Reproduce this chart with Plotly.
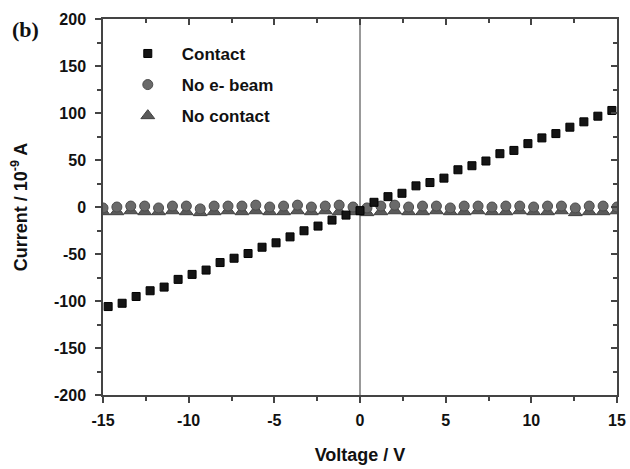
import numpy as np
import plotly.graph_objects as go

# ---- data ----
contact_v = np.linspace(-14.7, 14.7, 37).tolist()
contact_i = [-105.9, -102.4, -95.2, -89.1, -85.2, -77.0, -71.7, -67.1, -59.1,
             -54.5, -49.5, -42.8, -38.1, -31.8, -25.3, -20.3, -13.9, -8.6, -3.9,
             5.0, 11.0, 14.6, 22.5, 26.0, 30.7, 39.6, 43.9, 48.9, 56.7, 60.2,
             67.4, 73.5, 78.1, 84.9, 90.6, 96.6, 102.7]

gray_v = np.linspace(-15, 15, 38).tolist()
nobeam_i = [-1, 0, 1, 1, -1, 1, 1, -2, 1, 1, 1, 2, 0, 1, 2, 0, 1, 2, 0,
            -1, 1, 2, 0, 1, 1, -1, 1, 1, 0, 1, 1, 0, 1, 1, -1, 1, 1, 0]
nocontact_i = [-5, -5, -4, -5, -5, -4, -5, -6, -5, -4, -5, -4, -5, -5, -4, -5, -4, -5, -5,
               -6, -5, -4, -5, -5, -4, -5, -5, -4, -5, -5, -4, -5, -5, -4, -6, -5, -5, -4]

x_ticks = [-15, -10, -5, 0, 5, 10, 15]
x_ticklabels = ["-15", "-10", "-5", "0", "5", "10", "15"]
y_ticks = [-200, -150, -100, -50, 0, 50, 100, 150, 200]
y_ticklabels = ["-200", "-150", "-100", "-50", "0", "50", "100", "150", "200"]

FONT = "Liberation Sans, Arial, sans-serif"

fig = go.Figure()

fig.add_trace(go.Scatter(
    x=gray_v, y=nocontact_i, mode="markers", name="No contact",
    legendgroup="c", legendrank=3,
    marker=dict(symbol="triangle-up", size=12, color="#5a5a5a",
                line=dict(color="#404040", width=1))))
fig.add_trace(go.Scatter(
    x=gray_v, y=nobeam_i, mode="markers", name="No e- beam",
    legendgroup="b", legendrank=2,
    marker=dict(symbol="circle", size=10, color="#6a6a6a",
                line=dict(color="#4c4c4c", width=1))))
fig.add_trace(go.Scatter(
    x=contact_v, y=contact_i, mode="markers", name="Contact",
    legendgroup="a", legendrank=1,
    marker=dict(symbol="square", size=8, color="#151515",
                line=dict(color="#000000", width=1))))
# dummy trace to activate mirrored inside-tick axes
fig.add_trace(go.Scatter(x=[None], y=[None], xaxis="x2", yaxis="y2",
                         showlegend=False, hoverinfo="skip"))

axis_line = "#444444"
tickfont = dict(family=FONT, size=16, weight="bold", color="#111111")
fig.update_layout(
    width=630, height=469,
    margin=dict(l=103, r=13, t=19, b=74, autoexpand=False),
    paper_bgcolor="white", plot_bgcolor="white",
    font=dict(family=FONT, color="#111111"),
    showlegend=True,
    legend=dict(x=0.021, y=0.955, xanchor="left", yanchor="top",
                bgcolor="rgba(0,0,0,0)", itemwidth=58,
                traceorder="grouped", tracegroupgap=6,
                font=dict(family=FONT, size=17, weight="bold", color="#111111")),
    xaxis=dict(range=[-15, 15], tickvals=x_ticks, ticktext=x_ticklabels,
               ticks="outside", ticklen=6, ticklabelstandoff=4,
               tickwidth=1.5, tickcolor=axis_line, automargin=False,
               minor=dict(dtick=2.5, ticks="outside", ticklen=4, tickwidth=1.5, tickcolor=axis_line),
               showline=True, linecolor=axis_line, linewidth=1.5, mirror=True,
               showgrid=False, zeroline=False, tickfont=tickfont,
               title=dict(text="Voltage / V", standoff=20,
                          font=dict(family=FONT, size=18, weight="bold", color="#111111"))),
    yaxis=dict(range=[-200, 200], tickvals=y_ticks, ticktext=y_ticklabels,
               ticks="outside", ticklen=6, ticklabelstandoff=6,
               tickwidth=1.5, tickcolor=axis_line, automargin=False,
               minor=dict(dtick=25, ticks="outside", ticklen=4, tickwidth=1.5, tickcolor=axis_line),
               showline=True, linecolor=axis_line, linewidth=1.5, mirror=True,
               showgrid=False, zeroline=False, tickfont=tickfont,
               title=dict(text="Current / 10<sup>-9</sup> A", standoff=22,
                          font=dict(family=FONT, size=18, weight="bold", color="#111111"))),
    xaxis2=dict(overlaying="x", side="top", range=[-15, 15], tickvals=x_ticks,
                ticks="inside", ticklen=6, tickwidth=1.5, tickcolor=axis_line, automargin=False,
                minor=dict(dtick=2.5, ticks="inside", ticklen=4, tickwidth=1.5, tickcolor=axis_line),
                showticklabels=False, showline=False, showgrid=False, zeroline=False),
    yaxis2=dict(overlaying="y", side="right", range=[-200, 200], tickvals=y_ticks,
                ticks="inside", ticklen=6, tickwidth=1.5, tickcolor=axis_line, automargin=False,
                minor=dict(dtick=25, ticks="inside", ticklen=4, tickwidth=1.5, tickcolor=axis_line),
                showticklabels=False, showline=False, showgrid=False, zeroline=False),
)

fig.add_shape(type="line", xref="x", yref="paper", x0=0, x1=0, y0=0, y1=1,
              line=dict(color="#555555", width=1.2), layer="below")

fig.add_annotation(text="(b)", xref="paper", yref="paper", x=-0.18, y=1.01,
                   xanchor="left", yanchor="top", showarrow=False,
                   font=dict(family="Liberation Serif, Times New Roman, serif",
                             size=22, weight="bold", color="#111111"))

fig.write_html("out.html")
